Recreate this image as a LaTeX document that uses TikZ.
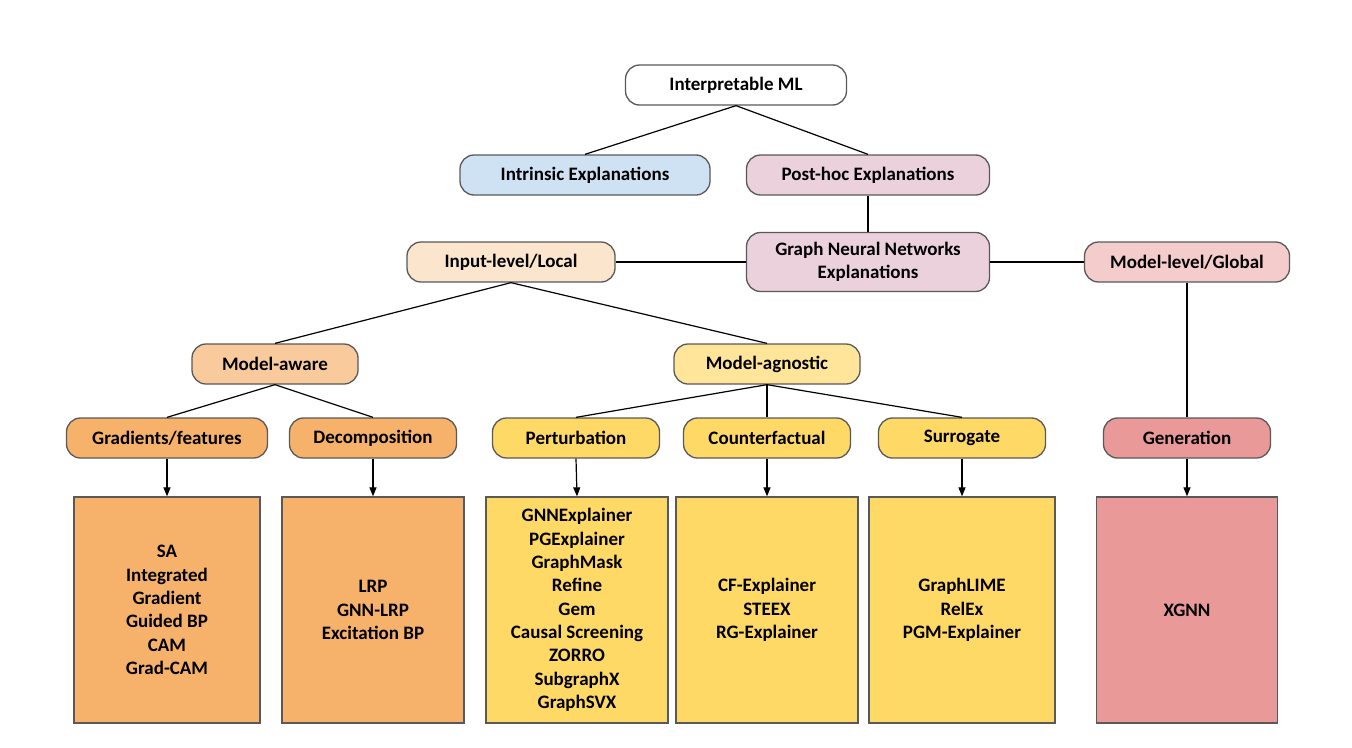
\documentclass[tikz,border=0pt]{standalone}
\usepackage{fontspec}
\setmainfont{Carlito}
\usetikzlibrary{arrows.meta}
\definecolor{bordergray}{HTML}{595959}
\definecolor{cblue}{HTML}{CFE2F3}
\definecolor{cpink}{HTML}{EAD1DC}
\definecolor{cpeach}{HTML}{FCE5CD}
\definecolor{crose}{HTML}{F4CCCC}
\definecolor{clorange}{HTML}{F9CB9C}
\definecolor{clyellow}{HTML}{FFE599}
\definecolor{corange}{HTML}{F6B26B}
\definecolor{cyellow}{HTML}{FFD966}
\definecolor{cred}{HTML}{EA9999}
\begin{document}
\begin{tikzpicture}[x=1pt,y=-1pt,
  box/.style={draw=bordergray, line width=1.3pt, rounded corners=14pt,
    font=\fontsize{19}{23.3}\selectfont\bfseries, inner sep=0pt,
    minimum height=40pt, align=center},
  leaf/.style={draw=bordergray, line width=1.3pt, align=center,
    font=\fontsize{19}{23.3}\selectfont\bfseries, inner sep=0pt,
    minimum height=226pt},
  conn/.style={line width=1.2pt},
  arr/.style={line width=1.2pt, -{Triangle[length=9pt,width=7pt]}}]
\useasboundingbox (0,0) rectangle (1352,747);

% level 0-2
\node[box, fill=white, minimum width=221pt] (root) at (736,85) {Interpretable ML};
\node[box, fill=cblue, minimum width=250pt] (intr) at (585,175) {Intrinsic Explanations};
\node[box, fill=cpink, minimum width=243pt] (post) at (868,175) {Post-hoc Explanations};
\node[box, fill=cpink, minimum width=243pt, minimum height=59pt] (gnn) at (868,262) {Graph Neural Networks\\Explanations};
\node[box, fill=cpeach, minimum width=208pt] (inp) at (511,262) {Input-level/Local};
\node[box, fill=crose, minimum width=205pt] (glob) at (1187,262) {Model-level/Global};

% level 3
\node[box, fill=clorange, minimum width=166pt] (aware) at (275,364) {Model-aware};
\node[box, fill=clyellow, minimum width=186pt] (agn) at (767,364) {Model-agnostic};

% level 4
\node[box, fill=corange, minimum width=201pt] (grad) at (167,438) {Gradients/features};
\node[box, fill=corange, minimum width=167pt] (dec) at (373,438) {Decomposition};
\node[box, fill=cyellow, minimum width=167pt] (pert) at (576,438) {Perturbation};
\node[box, fill=cyellow, minimum width=167pt] (cf) at (767,438) {Counterfactual};
\node[box, fill=cyellow, minimum width=167pt] (sur) at (962,438) {Surrogate};
\node[box, fill=cred, minimum width=167pt] (gen) at (1187,438) {Generation};

% leaves
\node[leaf, fill=corange, minimum width=186pt] (l1) at (167,610) {SA\\Integrated\\Gradient\\Guided BP\\CAM\\Grad-CAM};
\node[leaf, fill=corange, minimum width=182pt] (l2) at (373,610) {LRP\\GNN-LRP\\Excitation BP};
\node[leaf, fill=cyellow, minimum width=182pt] (l3) at (577,610) {GNNExplainer\\PGExplainer\\GraphMask\\Refine\\Gem\\Causal Screening\\ZORRO\\SubgraphX\\GraphSVX};
\node[leaf, fill=cyellow, minimum width=182pt] (l4) at (767,610) {CF-Explainer\\STEEX\\RG-Explainer};
\node[leaf, fill=cyellow, minimum width=186pt] (l5) at (962,610) {GraphLIME\\RelEx\\PGM-Explainer};
\node[leaf, fill=cred, minimum width=181pt] (l6) at (1187,610) {XGNN};

% connectors
\draw[conn] (root.south) -- (intr.north);
\draw[conn] (root.south) -- (post.north);
\draw[conn] (post.south) -- (gnn.north);
\draw[conn] (gnn.west) -- (inp.east);
\draw[conn] (gnn.east) -- (glob.west);
\draw[conn] (inp.south) -- (aware.north);
\draw[conn] (inp.south) -- (agn.north);
\draw[conn] (aware.south) -- (grad.north);
\draw[conn] (aware.south) -- (dec.north);
\draw[conn] (agn.south) -- (pert.north);
\draw[conn] (agn.south) -- (cf.north);
\draw[conn] (agn.south) -- (sur.north);
\draw[conn] (glob.south) -- (gen.north);

\draw[arr] (grad.south) -- (l1.north);
\draw[arr] (dec.south) -- (l2.north);
\draw[arr] (pert.south) -- (l3.north);
\draw[arr] (cf.south) -- (l4.north);
\draw[arr] (sur.south) -- (l5.north);
\draw[arr] (gen.south) -- (l6.north);
\end{tikzpicture}
\end{document}
